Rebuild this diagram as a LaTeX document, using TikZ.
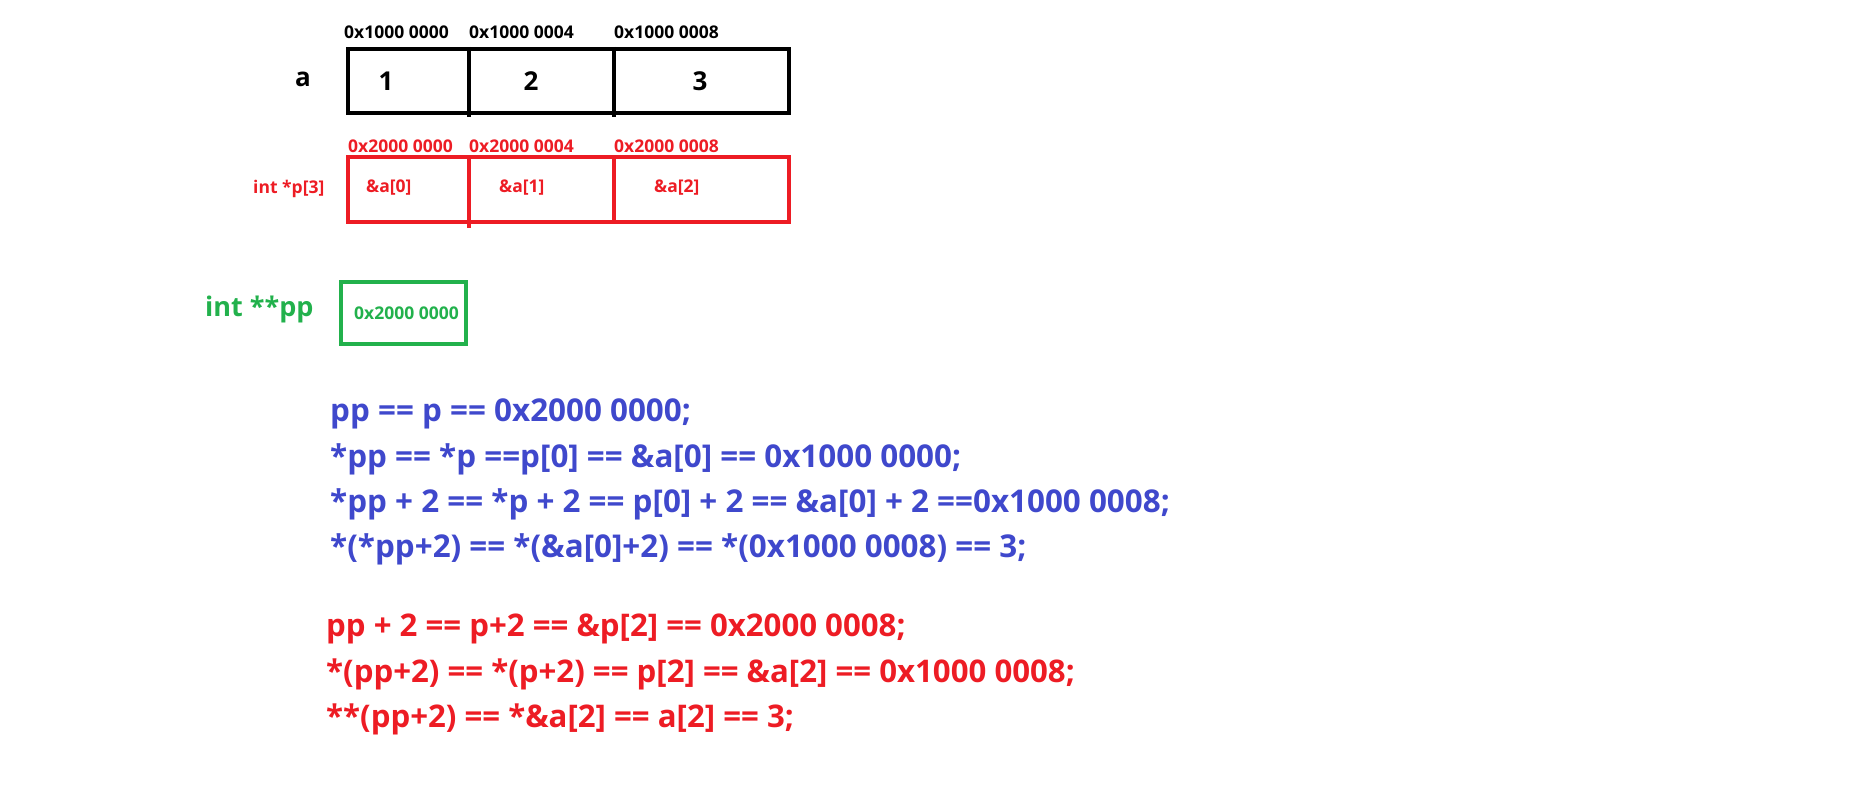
\documentclass[tikz,border=0pt]{standalone}
\usepackage{fontspec}
\setmainfont{Open Sans}
\definecolor{pred}{HTML}{ED1C24}
\definecolor{pgreen}{HTML}{22B14C}
\definecolor{pblue}{HTML}{3F48CC}
\tikzset{
  lbl/.style={inner sep=0pt, font=\bfseries\fontsize{17.5}{20}\selectfont},
  cell/.style={inner sep=0pt, font=\bfseries\fontsize{26}{30}\selectfont},
  codeb/.style={inner sep=0pt, anchor=west, text=pblue, font=\bfseries\fontsize{31.4}{36}\selectfont},
  coder/.style={inner sep=0pt, anchor=west, text=pred, font=\bfseries\fontsize{31.2}{36}\selectfont},
  boxline/.style={line width=4pt},
}
\begin{document}
\begin{tikzpicture}[x=1pt,y=-1pt]
\useasboundingbox (0,0) rectangle (1861,792);
% array a
\draw[boxline] (348,49) rectangle (789,113);
\draw[boxline] (469,47) -- (469,117);
\draw[boxline] (614,47) -- (614,117);
\node[cell] (alab) at (303,79) {a};
\node[cell] (a0) at (386,81) {1};
\node[cell] (a1) at (531,81) {2};
\node[cell] (a2) at (700,81) {3};
\node[lbl,anchor=west] (ad0) at (344,32) {0x1000 0000};
\node[lbl,anchor=west] (ad1) at (469,32) {0x1000 0004};
\node[lbl,anchor=west] (ad2) at (614,32) {0x1000 0008};
% array p
\draw[boxline,pred] (348,157) rectangle (789,222);
\draw[boxline,pred] (469,155) -- (469,228);
\draw[boxline,pred] (614,155) -- (614,224);
\node[lbl,text=pred,anchor=west] (pd0) at (348,146) {0x2000 0000};
\node[lbl,text=pred,anchor=west] (pd1) at (469,146) {0x2000 0004};
\node[lbl,text=pred,anchor=west] (pd2) at (614,146) {0x2000 0008};
\node[lbl,text=pred,anchor=west] (plab) at (253,189) {int *p[3]};
\node[lbl,text=pred,anchor=west] (p0) at (366,188) {\&a[0]};
\node[lbl,text=pred,anchor=west] (p1) at (499,188) {\&a[1]};
\node[lbl,text=pred,anchor=west] (p2) at (654,188) {\&a[2]};
% pp
\draw[boxline,pgreen] (341,282) rectangle (466,344);
\node[inner sep=0pt,anchor=west,text=pgreen,font=\bfseries\fontsize{27}{32}\selectfont] (pplab) at (205,309) {int **pp};
\node[lbl,text=pgreen,anchor=west] (ppv) at (354,313) {0x2000 0000};
% code
\node[codeb] (b1) at (330,414) {pp == p == 0x2000 0000;};
\node[codeb] (b2) at (330,459) {*pp == *p ==p[0] == \&a[0] == 0x1000 0000;};
\node[codeb] (b3) at (330,504) {*pp + 2 == *p + 2 == p[0] + 2 == \&a[0] + 2 ==0x1000 0008;};
\node[codeb] (b4) at (330,549) {*(*pp+2) == *(\&a[0]+2) == *(0x1000 0008) == 3;};
\node[coder] (r1) at (326,629) {pp + 2 == p+2 == \&p[2] == 0x2000 0008;};
\node[coder] (r2) at (326,674) {*(pp+2) == *(p+2) == p[2] == \&a[2] == 0x1000 0008;};
\node[coder] (r3) at (326,719) {**(pp+2) == *\&a[2] == a[2] == 3;};
\end{tikzpicture}
\end{document}
